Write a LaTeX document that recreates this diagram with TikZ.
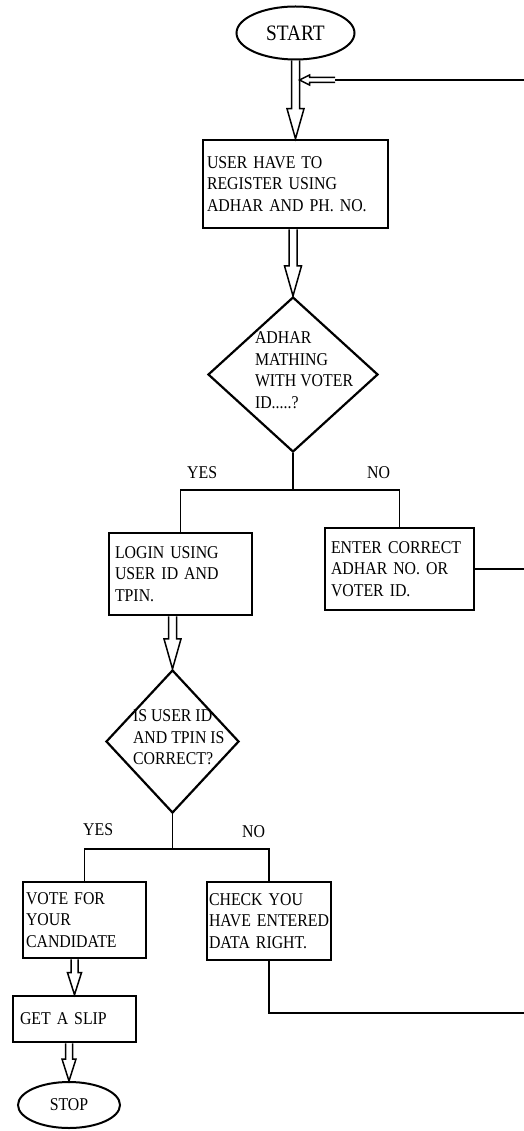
\documentclass[tikz,border=0pt]{standalone}
\usepackage{fontspec}
\setmainfont{Liberation Serif}[FakeStretch=0.88]
\usetikzlibrary{shapes.geometric,calc}
\newcommand\btxt{\fontsize{18}{21.5}\selectfont\hyphenpenalty=10000\relax}
\newcommand\ttxt{\fontsize{22}{26}\selectfont}
\newcommand\dlines[2]{\smash{\parbox[c]{#1}{\raggedright #2}}}
\begin{document}
\begin{tikzpicture}[x=1pt,y=-1pt,
 box/.style={draw, rectangle, line width=2.6pt, align=left, font=\btxt, inner ysep=0pt},
 dec/.style={draw, diamond, line width=2.2pt, inner sep=0pt, font=\btxt},
 term/.style={draw, ellipse, line width=2pt, inner sep=0pt},
 conn/.style={line width=1.8pt},
 lab/.style={font=\btxt, inner sep=0pt, anchor=base west},
 hollowarr/.style n args={3}{line width=1.5pt, line join=miter, to path={
   ($(\tikztostart)!#1!90:(\tikztotarget)$) --
   ($(\tikztotarget)!#3!(\tikztostart)!#1!90:(\tikztotarget)$) --
   ($(\tikztotarget)!#3!(\tikztostart)!#2!90:(\tikztotarget)$) --
   (\tikztotarget) --
   ($(\tikztotarget)!#3!(\tikztostart)!#2!-90:(\tikztotarget)$) --
   ($(\tikztotarget)!#3!(\tikztostart)!#1!-90:(\tikztotarget)$) --
   ($(\tikztostart)!#1!-90:(\tikztotarget)$)}},
 bigarr/.style={hollowarr={4pt}{8.5pt}{30pt}},
 shortarr/.style={hollowarr={3.5pt}{7pt}{22pt}},
 smallarr/.style={hollowarr={2.5pt}{5pt}{10pt}}
]
\useasboundingbox (0,0) rectangle (524,1131);

% nodes
\node[term, minimum width=118pt, minimum height=53pt, font=\ttxt] (start) at (295.5,33) {START};
\node[box, minimum width=185pt, minimum height=88pt, text width=177pt, inner xsep=4pt] (box1) at (295.5,184) {\mbox{USER HAVE TO}\\\mbox{REGISTER USING}\\\mbox{ADHAR AND PH. NO.}};
\node[dec, minimum width=170pt, minimum height=155pt] (d1) at (293,374.5) {\dlines{76pt}{ADHAR\\MATHING\\\mbox{WITH VOTER}\\ID.....?}};
\node[box, minimum width=143pt, minimum height=82pt, text width=131pt, inner xsep=6pt] (login) at (180.5,574) {\mbox{LOGIN USING}\\\mbox{USER ID AND}\\TPIN.};
\node[box, minimum width=149pt, minimum height=82pt, text width=137pt, inner xsep=6pt] (enter) at (399.5,569) {\mbox{ENTER CORRECT}\\\mbox{ADHAR NO. OR}\\\mbox{VOTER ID.}};
\node[dec, minimum width=133pt, minimum height=143pt] (d2) at (172.5,741.5) {\dlines{79pt}{\mbox{IS USER ID}\\\mbox{AND TPIN IS}\\CORRECT?}};
\node[box, minimum width=123pt, minimum height=76pt, text width=117pt, inner xsep=3pt] (vote) at (84.5,920) {\mbox{VOTE FOR}\\YOUR\\CANDIDATE};
\node[box, minimum width=124pt, minimum height=78pt, text width=120pt, inner xsep=2pt] (check) at (269,921) {\mbox{CHECK YOU}\\\mbox{HAVE ENTERED}\\\mbox{DATA RIGHT.}};
\node[box, minimum width=123pt, minimum height=46pt, text width=109pt, inner xsep=7pt] (slip) at (74.5,1019) {\mbox{GET A SLIP}};
\node[term, minimum width=102pt, minimum height=46pt, font=\btxt] (stop) at (69,1105) {STOP};

\node[lab] (yes1) at (187,478) {YES};
\node[lab] (no1) at (367,478) {NO};
\node[lab] (yes2) at (83,835) {YES};
\node[lab] (no2) at (242,837) {NO};

% junctions and free ends
\coordinate (j1) at (293,490);
\coordinate (j2) at (172.5,849);
\coordinate (e0) at (524,80);
\coordinate (fbs) at (335,80);
\coordinate (fbt) at (299.5,80);
\coordinate (e1) at (524,569);
\coordinate (e2) at (524,1013);

% connectors
\draw[bigarr] (start.south) to (box1.north);
\draw[conn] (e0) -- (fbs);
\draw[smallarr] (fbs) to (fbt);
\draw[bigarr] (d1.north |- box1.south) to (d1.north);
\draw[conn] (d1.south) -- (j1);
\draw[conn] (login.north) |- (j1) -| (enter.north);
\draw[conn] (enter.east) -- (e1);
\draw[bigarr] (d2.north |- login.south) to (d2.north);
\draw[conn] (d2.south) -- (j2);
\draw[conn] (vote.north) |- (j2) -| (check.north);
\draw[conn] (check.south) |- (e2);
\draw[shortarr] (slip.north |- vote.south) to (slip.north);
\draw[shortarr] (stop.north |- slip.south) to (stop.north);
\end{tikzpicture}
\end{document}
